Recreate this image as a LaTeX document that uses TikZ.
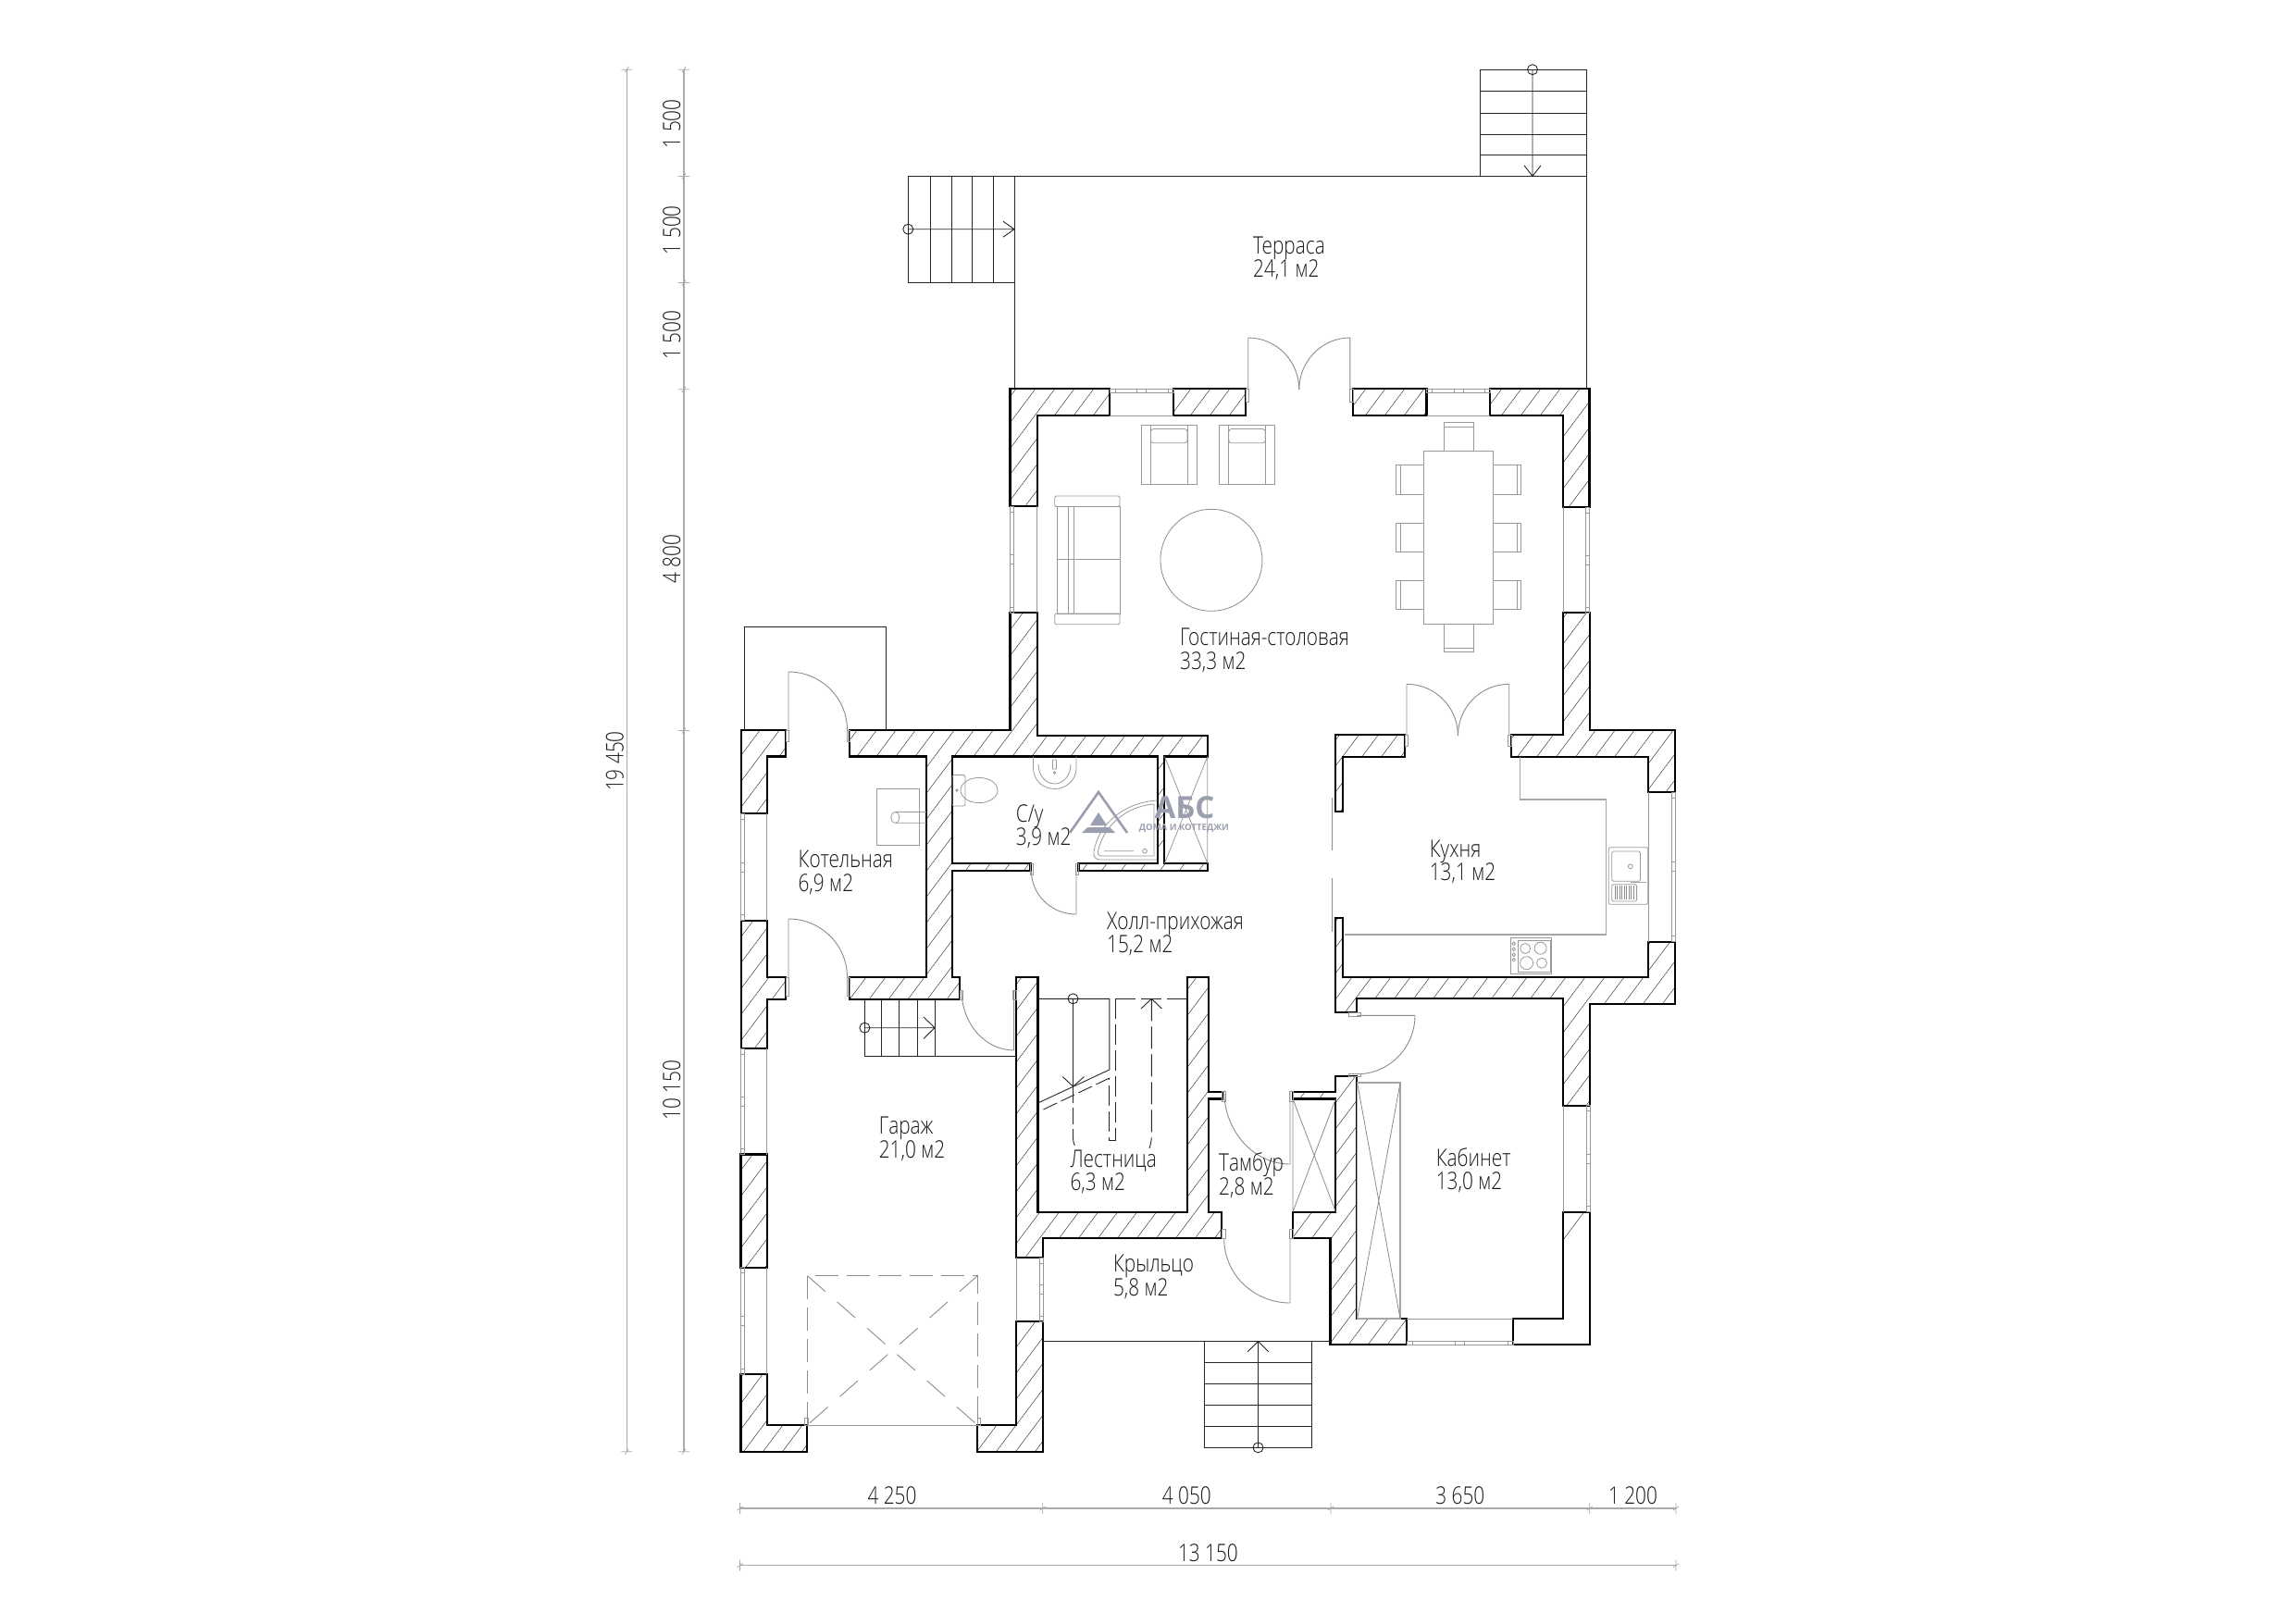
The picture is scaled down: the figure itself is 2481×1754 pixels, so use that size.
\documentclass[tikz,border=0pt]{standalone}
\usepackage{fontspec}
\setmainfont{Open Sans}[UprightFont=* Light,BoldFont=* Bold,FakeStretch=0.8]
\newfontfamily\logofont{Open Sans}[UprightFont=* Bold]
\definecolor{thinc}{HTML}{8C8C8C}
\definecolor{dimc}{HTML}{ABABAB}
\definecolor{logoc}{HTML}{9A9EAE}
\tikzset{
  plan/.style={line width=0.9pt,black!85},
  gry/.style={line width=0.9pt,thinc},
  furn/.style={line width=0.8pt,black!40},
  furnd/.style={line width=0.8pt,thinc},
  dimline/.style={line width=1.1pt,dimc},
  roomtxt/.style={font=\fontsize{26}{26}\selectfont,anchor=base west,inner sep=0pt,text=black!90},
  dimtxt/.style={font=\fontsize{26}{26}\selectfont,anchor=base,inner sep=0pt,text=black!90},
  dashgate/.style={line width=0.9pt,black!45,dash pattern=on 25pt off 9pt}
}
\newcommand\wallpaths{
 (1091.5,420)--(1199.4,420)--(1199.4,449)--(1120.6,449)--(1120.6,547)--(1091.5,547)--cycle
 (1268.3,420)--(1346.4,420)--(1346.4,449)--(1268.3,449)--cycle
 (1462,420)--(1541.5,420)--(1541.5,449)--(1462,449)--cycle
 (1610.4,420)--(1717.5,420)--(1717.5,548)--(1689,548)--(1689,449)--(1610.4,449)--cycle
 (800.7,789)--(849.2,789)--(849.2,817.5)--(828.8,817.5)--(828.8,879.3)--(800.7,879.3)--cycle
 (800.7,994.6)--(828.8,994.6)--(828.8,1056)--(849.2,1056)--(849.2,1080)--(828.8,1080)--(828.8,1132.9)--(800.7,1132.9)--cycle
 (918,789)--(1091.5,789)--(1091.5,662)--(1120.6,662)--(1120.6,794.6)--(1304.8,794.6)--(1304.8,817.5)--(1258.4,817.5)--(1258.4,933)--(1304.8,933)--(1304.8,941.4)--(1165.5,941.4)--(1165.5,933)--(1250.7,933)--(1250.7,817.5)--(1028.8,817.5)--(1028.8,933)--(1113.5,933)--(1113.5,941.4)--(1028.8,941.4)--(1028.8,1056)--(1037,1056)--(1037,1080)--(918,1080)--(918,1056)--(1001.2,1056)--(1001.2,817.5)--(918,817.5)--cycle
 (1098.3,1056.4)--(1121.5,1056.4)--(1121.5,1309.6)--(1283,1309.6)--(1283,1056.4)--(1306,1056.4)--(1306,1179.6)--(1320.8,1179.6)--(1320.8,1187.5)--(1306,1187.5)--(1306,1309.6)--(1320.2,1309.6)--(1320.2,1337.9)--(1127.3,1337.9)--(1127.3,1359)--(1098.3,1359)--cycle
 (1442.9,991.7)--(1451,991.7)--(1451,1056)--(1781.4,1056)--(1781.4,1017.7)--(1810,1017.7)--(1810,1085)--(1718,1085)--(1718,1194.6)--(1689.3,1194.6)--(1689.3,1079.3)--(1466.4,1079.3)--(1466.4,1094.3)--(1442.9,1094.3)--cycle
 (1442.9,794.3)--(1517.9,794.3)--(1517.9,817.7)--(1451,817.7)--(1451,876.7)--(1442.9,876.7)--cycle
 (1689.3,662)--(1717.9,662)--(1717.9,789)--(1810,789)--(1810,856)--(1781.4,856)--(1781.4,817.7)--(1632.9,817.7)--(1632.9,794.3)--(1689.3,794.3)--cycle
 (1443.3,1163.2)--(1466.2,1163.2)--(1466.2,1425)--(1520.2,1425)--(1520.2,1453.2)--(1437.5,1453.2)--(1437.5,1337.9)--(1397,1337.9)--(1397,1309.6)--(1443.3,1309.6)--(1443.3,1187.5)--(1397,1187.5)--(1397,1179.6)--(1443.3,1179.6)--cycle
 (1635.4,1425)--(1689.3,1425)--(1689.3,1309.6)--(1718,1309.6)--(1718,1453.2)--(1635.4,1453.2)--cycle
 (800.5,1247.5)--(829,1247.5)--(829,1369.6)--(800.5,1369.6)--cycle
 (800.5,1485)--(829,1485)--(829,1540)--(872.4,1540)--(872.4,1568.6)--(800.5,1568.6)--cycle
 (1098.3,1427.9)--(1127.3,1427.9)--(1127.3,1568.6)--(1056.3,1568.6)--(1056.3,1540)--(1098.3,1540)--cycle
}
% vertical window: outer x, inner x, y1, y2, offset of the second outer line
\newcommand\winV[5]{
 \draw[furn] (#2,#3)--(#2,#4) (#1,#3)--(#1,#4) ({#1+#5},#3)--({#1+#5},#4);
 \draw[furn] (#1,#3) rectangle ({#1+#5},{#3+6}) (#1,{#4-6}) rectangle ({#1+#5},#4)
   (#1,{(#3+#4)/2-5}) rectangle ({#1+#5},{(#3+#4)/2+5});
}
\newcommand\winH[5]{
 \draw[furn] (#3,#2)--(#4,#2) (#3,#1)--(#4,#1) (#3,{#1+#5})--(#4,{#1+#5});
 \draw[furn] (#3,#1) rectangle ({#3+6},{#1+#5}) ({#4-6},#1) rectangle (#4,{#1+#5})
   ({(#3+#4)/2-5},#1) rectangle ({(#3+#4)/2+5},{#1+#5});
}
% quarter arc from P1 to P2 round centre C
\newcommand\qarc[6]{(#1,#2) .. controls ({#1+0.5523*(#3-#5)},{#2+0.5523*(#4-#6)}) and ({#3+0.5523*(#1-#5)},{#4+0.5523*(#2-#6)}) .. (#3,#4)}
\newcommand\room[6]{
 \node[roomtxt] (#1a) at (#2,#3) {#4};
 \node[roomtxt] (#1b) at (#2,#5) {#6};
}
\begin{document}
\begin{tikzpicture}[x=1pt,y=-1pt]
\useasboundingbox (0,0) rectangle (2481,1754);
\fill[white] (0,0) rectangle (2481,1754);

% ---- hatching and walls
\begin{scope}
 \clip \wallpaths;
 \foreach \c in {1350,1371,...,2700}
  \draw[line width=0.6pt,black!65] ({\c-300},400)--({\c-1200},1600);
\end{scope}
\draw[line width=2.1pt,black,miter limit=4] \wallpaths;

% ---- windows
\winH{420}{449}{1199.4}{1268.3}{4}
\winH{420}{449}{1541.5}{1610.4}{4}
\winV{1091.5}{1120.6}{547}{662}{4}
\winV{1717.5}{1689}{548}{662}{-4}
\winV{800.7}{828.8}{879.3}{994.6}{4}
\winV{800.7}{828.8}{1132.9}{1247.5}{4}
\winV{800.7}{828.8}{1369.6}{1485}{4}
\winV{1810}{1781.4}{856}{1017.7}{-4}
\winV{1718}{1689.3}{1194.6}{1309.6}{-4}
\winH{1453.2}{1425}{1520.2}{1635.4}{-4}
\winV{1127.3}{1098.3}{1359}{1427.9}{-4}

% ---- terrace and its stairs
\draw[plan] (1096,420)--(1096,190.5)--(1714.5,190.5)--(1714.5,420);
\draw[plan] (981.3,190.5) rectangle (1096,305.3);
\draw[plan] (1005,190.5)--(1005,305.3) (1028,190.5)--(1028,305.3) (1050,190.5)--(1050,305.3) (1073,190.5)--(1073,305.3);
\draw[plan] (981.3,247.7) circle[radius=5.5pt] (981.3,247.7)--(1096,247.7) (1084,239.2)--(1096,247.7)--(1084,256.2);
\draw[plan] (1599,190.5)--(1599,75.2)--(1714.5,75.2)--(1714.5,190.5);
\draw[plan] (1599,98.7)--(1714.5,98.7) (1599,122)--(1714.5,122) (1599,145)--(1714.5,145) (1599,167.5)--(1714.5,167.5);
\draw[plan] (1656,75.2) circle[radius=5.5pt] (1656,75.2)--(1656,190.5) (1647,178.8)--(1656,190.5)--(1665,178.8);

% ---- canopy over the boiler-room door
\draw[plan] (804.3,789)--(804.3,677.5)--(957.9,677.5)--(957.9,789);

% ---- doors
\draw[gry] (1348.7,421)--(1348.7,365) \qarc{1348.7}{365}{1403.8}{421}{1348.7}{421};
\draw[gry] (1458.9,421)--(1458.9,365) \qarc{1458.9}{365}{1403.8}{421}{1458.9}{421};
\draw[gry] (1520,794.3)--(1520,739.3) \qarc{1520}{739.3}{1575.4}{795}{1520}{795};
\draw[gry] (1630.7,794.3)--(1630.7,739.3) \qarc{1630.7}{739.3}{1575.4}{795}{1630.7}{795};
\draw[gry] (852,789)--(852,726) \qarc{852}{726}{915.5}{789}{852}{789};
\draw[gry] (852,1056)--(852,993) \qarc{852}{993}{915.5}{1056}{852}{1056};
\draw[gry] (1163,941.4)--(1163,988) \qarc{1163}{988}{1114.5}{941.4}{1163}{941.4};
\draw[gry] (1095.6,1070)--(1095.6,1135) \qarc{1095.6}{1135}{1039}{1070}{1095.6}{1070};
\draw[gry] (1466.4,1097.3)--(1529,1097.3) \qarc{1529}{1097.3}{1466.4}{1160.7}{1466.4}{1097.3};
\draw[gry] (1394,1178.6)--(1394,1258) \qarc{1394}{1258}{1322.7}{1178.6}{1394}{1178.6};
\draw[gry] (1394,1338.6)--(1394,1408) \qarc{1394}{1408}{1322.7}{1338.6}{1394}{1338.6};
\draw[gry] (1439.3,861.7)--(1439.3,919) (1439.3,949.3)--(1439.3,1006.7);
\foreach \a/\b/\c/\d in {849.2/789/852.4/801,915/789/918.2/801,849.2/1056/852.4/1076,915/1056/918.2/1076,1113.5/933/1116.5/945,1162.5/933/1165.5/945,1037/1070/1040/1080,1094/1070/1098/1080,1320.8/1179/1324/1190,1393.5/1179/1397/1190,1320.8/1328/1324/1338,1393.5/1328/1397/1338,1457/1094.3/1470/1098,1457/1160/1470/1163.2,1346.4/420/1349.7/434,1458.7/420/1462/434,1517.9/794.3/1521/806,1629.7/794.3/1632.9/806,869.5/1532/872.9/1540,1056.3/1532/1059.5/1540}
 \draw[furn] (\a,\b) rectangle (\c,\d);

% ---- garage stair
\draw[plan] (934.4,1080)--(934.4,1141.4)--(1098,1141.4);
\draw[plan] (952.2,1080)--(952.2,1141.4) (971.6,1080)--(971.6,1141.4) (991,1080)--(991,1141.4) (1010,1080)--(1010,1141.4);
\draw[plan] (934.4,1110.7) circle[radius=5.5pt] (934.4,1110.7)--(1010,1110.7) (998,1099)--(1010,1110.7)--(998,1122.4);

% ---- main stair
\draw[plan] (1121.5,1079.3)--(1198.8,1079.3)--(1198.8,1156)--(1121.5,1192);
\draw[plan,dash pattern=on 22pt off 6pt] (1205,1079.3)--(1283,1079.3);
\draw[plan,dash pattern=on 22pt off 6pt] (1205,1079.3)--(1205,1232)--(1198.8,1232)--(1198.8,1165);
\draw[plan,dash pattern=on 16pt off 5pt] (1198.8,1165)--(1121.5,1201.8);
\draw[plan] (1159.5,1079.3) circle[radius=5.5pt] (1159.5,1079.3)--(1159.5,1174) (1148.3,1163.6)--(1159.5,1174)--(1171.5,1163.6);
\draw[plan,dash pattern=on 18pt off 5pt] (1159.5,1174)--(1159.5,1228.6) .. controls (1159.5,1235) and (1161,1238) .. (1163,1241);
\draw[plan,dash pattern=on 24pt off 6pt] (1244.3,1079.3)--(1244.3,1228.6) .. controls (1244.3,1233) and (1243,1237) .. (1242,1241);
\draw[plan] (1233,1090)--(1244.3,1079.3)--(1255.4,1090);

% ---- porch and its stair
\draw[plan] (1127.3,1449.6)--(1437.5,1449.6);
\draw[plan] (1301.8,1449.6)--(1301.8,1564.3)--(1417.3,1564.3)--(1417.3,1449.6);
\draw[plan] (1301.8,1472.5)--(1417.3,1472.5) (1301.8,1495.4)--(1417.3,1495.4) (1301.8,1518.6)--(1417.3,1518.6) (1301.8,1541.8)--(1417.3,1541.8);
\draw[plan] (1359.5,1564.3) circle[radius=5.5pt] (1359.5,1564.3)--(1359.5,1449.6) (1348.3,1460.7)--(1359.5,1449.6)--(1370.6,1460.7);

% ---- garage gate
\draw[furn] (872.4,1540)--(1056.3,1540);
\draw[dashgate] (872.4,1540)--(872.4,1378.6)--(1056.3,1378.6)--(1056.3,1540);
\draw[dashgate,dash pattern=on 26pt off 17pt] (872.4,1378.6)--(1056.3,1540) (1056.3,1378.6)--(872.4,1540);

% ---- shafts and closets
\draw[furn] (1258.4,817.5)--(1304.8,933) (1304.8,817.5)--(1258.4,933) (1304.8,817.5)--(1304.8,933);
\draw[furnd] (1397,1187.5)--(1443.3,1309.6) (1443.3,1187.5)--(1397,1309.6) (1397,1187.5)--(1397,1309.6);
\draw[line width=1.2pt,black!35] (1466.6,1170) rectangle (1513,1425);
\draw[furnd] (1466.6,1170)--(1513,1425) (1513,1170)--(1466.6,1425);

% ---- living room furniture
\foreach \x in {1233,1317.3} {
 \draw[furn] (\x,459.4) rectangle ({\x+60.4},523.7);
 \draw[furn] ({\x+10},459.4)--({\x+10},523.7) ({\x+50},459.4)--({\x+50},523.7);
 \draw[furn,rounded corners=3pt] ({\x+10.5},463.5) rectangle ({\x+50},478.8);
}
\draw[furn,rounded corners=1.5pt] (1139.7,536) rectangle (1210,547.5) (1139.7,663) rectangle (1210,674.7);
\draw[furn] (1142.5,547.5) rectangle (1210,663) (1154,547.5)--(1154,663) (1160,547.5)--(1160,663) (1142.5,604.8)--(1210,604.8);
\draw[furnd] (1308.9,605.3) circle[radius=55pt];
\draw[furn] (1538.4,487.4) rectangle (1613.5,674.7);
\draw[furn] (1560.6,456.8) rectangle (1592,487.4) (1560.6,461)--(1592,461);
\draw[furn] (1560.6,674.7) rectangle (1592,704.3) (1560.6,700)--(1592,700);
\foreach \y/\z in {502.8/533.9,565.5/596.6,627.8/658.4} {
 \draw[furn] (1508.6,\y) rectangle (1538.4,\z) (1513,\y)--(1513,\z);
 \draw[furn] (1613.5,\y) rectangle (1643.3,\z) (1639,\y)--(1639,\z);
}

% ---- boiler room
\draw[furn] (947.7,852.5) rectangle (993,913.6);
\draw[furn] (1001,877.5)--(968,877.5) .. controls (961,877.5) and (961,889.3) .. (968,889.3)--(1001,889.3);
\draw[furn] (968,877.5) .. controls (973,877.5) and (973,889.3) .. (968,889.3);

% ---- bathroom
\draw[furn,rounded corners=2pt] (1029,837.5) rectangle (1043,871);
\draw[furn] (1058,854) ellipse[x radius=20pt,y radius=13.6pt];
\draw[furn] (1034,854) circle[radius=1.3pt];
\draw[furn] (1116.5,817.5)--(1116.5,830) .. controls (1116.5,844) and (1128,852.5) .. (1139.7,852.5) .. controls (1151,852.5) and (1163,844) .. (1163,830)--(1163,817.5);
\draw[furn] (1122,826) .. controls (1122,838) and (1130,847) .. (1139.7,847) .. controls (1149,847) and (1157,838) .. (1157,826);
\draw[furn] (1137.5,821) rectangle (1141.5,831) (1139.5,835) circle[radius=1.3pt];
\draw[furn] (1250.7,865) .. controls (1215,867) and (1187,890) .. (1182,920) .. controls (1181,926) and (1184,929) .. (1189,929)--(1250.7,929);
\draw[furn] (1247,869) .. controls (1217,871) and (1192,893) .. (1186.5,920) .. controls (1186,923) and (1187,925) .. (1191,925)--(1247,925)--cycle;
\draw[furn] (1193,919.7)--(1225,919.7) (1237,919.7) circle[radius=2.4pt];

% ---- kitchen
\draw[line width=1.1pt,black!35] (1642.9,817.7)--(1642.9,864)--(1735.7,864)--(1735.7,1010)--(1452.5,1010);
\draw[furn,rounded corners=1.5pt] (1738.2,915.7) rectangle (1780.7,977.3);
\draw[furn,rounded corners=1.5pt] (1741.8,920) rectangle (1772.5,952.3);
\draw[furn] (1761.8,936.3) circle[radius=2.4pt];
\draw[furn,rounded corners=1.5pt] (1741.8,955.7) rectangle (1768.6,974);
\foreach \x in {1745,1747.5,...,1765.5} \draw[line width=0.6pt,black!45] (\x,957)--(\x,972);
\draw[line width=1.6pt,black!35] (1762,953.5)--(1779,953.5);
\draw[furn] (1632,1013.3) rectangle (1676.8,1052.3);
\draw[furn] (1640.4,1016) rectangle (1675,1050);
\draw[furn] (1648.2,1025) circle[radius=5.5pt] (1664.6,1024.7) circle[radius=6.5pt] (1649.6,1040.7) circle[radius=7pt] (1666,1040.7) circle[radius=5.5pt];
\foreach \y in {1019.7,1025.7,1031.7,1037.3} \draw[furn] (1635.7,\y) circle[radius=1.8pt];

% ---- room labels
\room{ter}{1354}{274.7}{Терраса}{299.7}{24,1 м2}
\room{liv}{1275}{697}{Гостиная-столовая}{723}{33,3 м2}
\room{wc}{1097.7}{888}{С/у}{913}{3,9 м2}
\room{boil}{862.4}{937}{Котельная}{963}{6,9 м2}
\room{hall}{1196}{1004}{Холл-прихожая}{1029}{15,2 м2}
\room{kit}{1544.6}{926}{Кухня}{951.7}{13,1 м2}
\room{gar}{949.6}{1225.7}{Гараж}{1251}{21,0 м2}
\room{sta}{1156.3}{1261.4}{Лестница}{1286.4}{6,3 м2}
\room{tam}{1317}{1265.4}{Тамбур}{1291}{2,8 м2}
\room{por}{1202.8}{1374.3}{Крыльцо}{1400.7}{5,8 м2}
\room{cab}{1551.6}{1260.7}{Кабинет}{1285.7}{13,0 м2}

% ---- watermark
\draw[line width=2.6pt,logoc,line join=miter] (1156,900)--(1187,856)--(1218,900);
\fill[logoc] (1187,878)--(1196,892)--(1178,892)--cycle (1175,894)--(1199,894)--(1205,900)--(1169,900)--cycle;
\node[inner sep=0pt,anchor=base,text=logoc,font=\logofont\fontsize{33}{33}\selectfont] (logoa) at (1280,884.6) {АБС};
\node[inner sep=0pt,anchor=base,text=logoc,font=\logofont\fontsize{9.5}{9.5}\selectfont] (logob) at (1279.5,897.5) {ДОМА И КОТТЕДЖИ};

% ---- dimensions
\draw[dimline] (799.6,1630)--(1811,1630) (799.6,1691.7)--(1811,1691.7);
\draw[dimline] (677.3,75.2)--(677.3,1568.7) (739,75.2)--(739,1568.7);
\foreach \x in {799.6,1126.8,1437.9,1717.8,1811} \draw[line width=0.8pt,dimc] (\x,1624)--(\x,1636) ({\x-3},1632)--({\x+3},1628);
\foreach \x in {799.6,1811} \draw[line width=0.8pt,dimc] (\x,1685.7)--(\x,1697.7) ({\x-3},1693.7)--({\x+3},1689.7);
\foreach \y in {75.2,190.4,305.6,420.8,789.5,1568.7} \draw[line width=0.8pt,dimc] (733,\y)--(745,\y) (737,{\y+3})--(741,{\y-3});
\foreach \y in {75.2,1568.7} \draw[line width=0.8pt,dimc] (671.3,\y)--(683.3,\y) (675.3,{\y+3})--(679.3,{\y-3});
\node[dimtxt] (d1) at (964,1625.7) {4 250};
\node[dimtxt] (d2) at (1282.4,1625.7) {4 050};
\node[dimtxt] (d3) at (1577.8,1625.7) {3 650};
\node[dimtxt] (d4) at (1764.5,1625.7) {1 200};
\node[dimtxt] (d5) at (1305.4,1687.7) {13 150};
\node[dimtxt,rotate=90] (v1) at (735,133.8) {1 500};
\node[dimtxt,rotate=90] (v2) at (735,248.6) {1 500};
\node[dimtxt,rotate=90] (v3) at (735,362) {1 500};
\node[dimtxt,rotate=90] (v4) at (735,604) {4 800};
\node[dimtxt,rotate=90] (v5) at (735,1178) {10 150};
\node[dimtxt,rotate=90] (v6) at (673.5,822.5) {19 450};
\end{tikzpicture}
\end{document}
